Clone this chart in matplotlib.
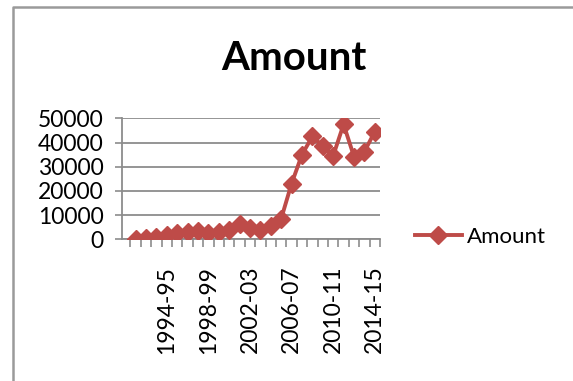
import numpy as np
import matplotlib
matplotlib.use('Agg')
import matplotlib.pyplot as plt
from matplotlib.lines import Line2D

plt.rcParams['font.family'] = ['Lato', 'DejaVu Sans']

# data
years = ['1991-92', '1992-93', '1993-94', '1994-95', '1995-96', '1996-97',
         '1997-98', '1998-99', '1999-00', '2000-01', '2001-02', '2002-03',
         '2003-04', '2004-05', '2005-06', '2006-07', '2007-08', '2008-09',
         '2009-10', '2010-11', '2011-12', '2012-13', '2013-14', '2014-15']
amount = [200, 700, 1100, 1800, 2400, 2900, 3400, 2700, 3000, 4000, 6500, 4800,
          3800, 5500, 8500, 23000, 35000, 42500, 38500, 34500, 47500, 34200,
          36200, 44500]
shown_labels = ['1994-95', '1998-99', '2002-03', '2006-07', '2010-11', '2014-15']

red = '#BE4B48'
grid_gray = '#8c8c8c'

fig = plt.figure(figsize=(5.73, 3.81), dpi=100, facecolor='white')

# chart area border (only top and left edges are inside the crop)
bx, by = 13 / 573, 1 - 7 / 381
fig.add_artist(Line2D([bx, bx, 1.1], [-0.1, by, by], transform=fig.transFigure,
                      color='#9a9a9a', linewidth=1.8))

ax = fig.add_axes([122 / 573, 1 - 239.3 / 381, 258 / 573, 121 / 381])

x = np.arange(len(years))
ax.plot(x, amount, color=red, linewidth=2.8, marker='D', markersize=9,
        markerfacecolor=red, markeredgecolor=red, label='Amount', zorder=3)

ax.set_ylim(0, 50000)
ax.set_xlim(-1.3, len(years) - 0.5)
ax.set_yticks(np.arange(0, 50001, 10000))
ax.set_yticklabels([str(v) for v in range(0, 50001, 10000)], fontsize=16.5)
ax.yaxis.grid(True, color=grid_gray, linewidth=1.3)
ax.set_axisbelow(True)

idx = [years.index(s) for s in shown_labels]
ax.set_xticks(idx)
ax.set_xticklabels(shown_labels, rotation=90, fontsize=16.5)
ax.set_xticks(np.arange(-0.5, len(years)), minor=True)
ax.tick_params(axis='x', which='major', length=0, pad=19)
ax.tick_params(axis='x', which='minor', length=6, color=grid_gray, width=1.2)
ax.tick_params(axis='y', length=5, color=grid_gray, width=1.2, pad=8)

for side in ['top', 'right']:
    ax.spines[side].set_visible(False)
for side in ['left', 'bottom']:
    ax.spines[side].set_color(grid_gray)
    ax.spines[side].set_linewidth(1.3)

fig.text(293.5 / 573, 1 - 58 / 381, 'Amount', fontsize=29, fontweight='bold',
         ha='center', va='center')

ax.legend(loc='center left', bbox_to_anchor=(415 / 573, 1 - 237 / 381),
          bbox_transform=fig.transFigure, frameon=False, fontsize=16,
          handlelength=2.1, handletextpad=0.25, borderpad=0, borderaxespad=0)

fig.savefig('out.png', dpi=100, facecolor='white')
